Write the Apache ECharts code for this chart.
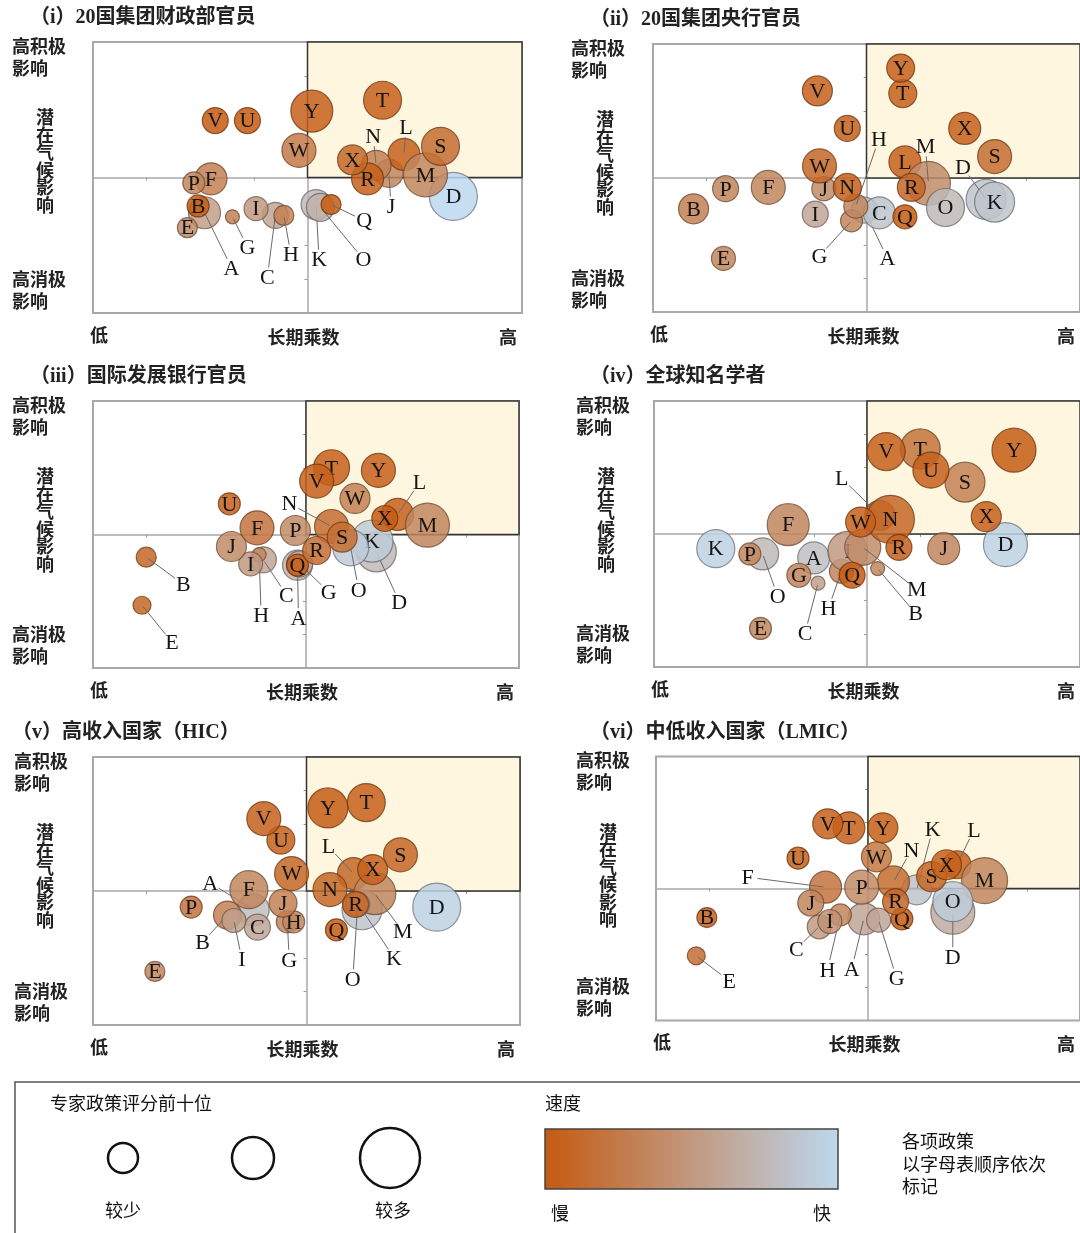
<!DOCTYPE html>
<html>
<head>
<meta charset="utf-8">
<script src="https://cdn.jsdelivr.net/npm/echarts@6/dist/echarts.min.js"></script>
<style>
  html, body { margin: 0; padding: 0; background: #fff; }
  #chart { width: 1080px; height: 1233px; }
</style>
</head>
<body>
<div id="chart"></div>
<script>
// 政策字母（A-Y），每个面板的数据行顺序与之一致
const letters = ['A','B','C','D','E','F','G','H','I','J','K','L','M','N','O','P','Q','R','S','T','U','V','W','X','Y'];

// 每行: [长期乘数, 潜在气候影响, 前十位评分次数, 速度(0慢-1快)]
const g20Finance = [
  [-4.8,-2.6,5.5,0.55],[-5.1,-2.1,3,0],[-1.5,-2.8,4,0.6],[6.8,-1.4,9.5,1],[-5.6,-3.7,2.5,0.4],
  [-4.5,-0.1,5.5,0.3],[-3.5,-2.9,1,0.3],[-1.1,-2.8,2.5,0.3],[-2.4,-2.3,3.5,0.5],[3.8,0.3,4.5,0.35],
  [0.4,-2.0,5,0.75],[4.5,1.7,5.5,0.05],[5.5,0.2,8.5,0.35],[3.2,0.9,5,0.3],[0.6,-2.2,4.5,0.7],
  [-5.3,-0.4,3,0.35],[1.1,-2.0,2.5,0],[2.8,-0.1,5.5,0.05],[6.2,2.3,7,0.15],[3.5,5.7,7,0.05],
  [-2.8,4.2,4,0],[-4.3,4.2,4,0],[-0.4,2.0,6,0.25],[2.1,1.3,5,0.1],[0.2,4.9,8,0.05]
];
const g20CentralBank = [
  [-0.1,-2.4,4,0.85],[-8.1,-2.3,5,0.3],[0.6,-2.6,5.5,0.85],[5.6,-1.6,7.5,0.85],[-6.7,-6.0,3.5,0.35],
  [-4.6,-0.7,6,0.35],[-0.7,-3.2,3,0.35],[-0.5,-2.1,3.5,0.35],[-2.4,-2.7,4,0.6],[-2.0,-0.8,3.5,0.4],
  [6.0,-1.8,7.5,0.85],[1.8,1.2,5.5,0.05],[2.9,-0.4,8.5,0.4],[-0.9,-0.7,4.5,0.05],[3.7,-2.2,7,0.75],
  [-6.6,-0.8,4,0.35],[1.8,-2.9,3.5,0],[2.1,-0.7,4.5,0.1],[6.0,1.6,6,0.15],[1.7,6.3,4.5,0.05],
  [-0.9,3.7,4,0.05],[-2.3,6.5,5,0.05],[-2.2,0.9,6,0.1],[4.6,3.7,5.5,0.05],[1.6,8.2,4.5,0.05]
];
const devBank = [
  [-0.4,-2.3,5,0.7],[-7.5,-1.7,2.5,0.1],[-2.0,-1.9,4,0.6],[3.3,-1.3,7.5,0.75],[-7.7,-5.3,2,0.1],
  [-2.3,0.5,6,0.2],[-0.3,-2.2,4,0.65],[-2.2,-1.5,1,0.35],[-2.6,-2.2,3.5,0.5],[-3.5,-0.9,5,0.4],
  [3.1,-0.5,8,0.9],[4.3,1.5,5.5,0.05],[5.7,0.7,8.5,0.35],[1.2,0.6,6,0.15],[2.1,-1.0,6.5,0.9],
  [-0.5,0.3,5,0.4],[-0.4,-2.3,3,0],[0.5,-1.2,4.5,0.15],[1.7,-0.2,5,0.15],[1.2,5.0,6.5,0.05],
  [-3.6,2.3,3,0.05],[0.5,4.0,6,0.05],[2.3,2.7,5,0.3],[3.7,1.2,4,0],[3.4,4.8,6,0.05]
];
const academics = [
  [-2.5,-1.8,5.5,0.8],[0.5,-2.6,1,0.35],[-2.3,-3.7,1,0.55],[6.5,-0.8,8.5,0.95],[-5.0,-7.1,3,0.35],
  [-3.7,0.7,8,0.35],[-3.2,-3.1,3.5,0.35],[-1.2,-2.8,3.5,0.35],[-0.9,-1.3,7.5,0.5],[3.6,-1.1,5.5,0.35],
  [-7.1,-1.1,7,0.95],[0.6,1.4,5,0.1],[-0.2,-1.0,6.5,0.4],[1.1,1.1,9.5,0.1],[-4.9,-1.5,5.5,0.75],
  [-5.5,-1.5,3,0.35],[-0.7,-3.1,4,0],[1.5,-1.0,4,0.05],[4.6,3.9,7.5,0.3],[2.5,6.4,7.5,0.2],
  [3.0,4.8,6.5,0.05],[0.9,6.2,7,0.05],[-0.3,0.9,5,0.05],[5.6,1.3,5,0.05],[6.9,6.3,8.5,0.02]
];
const highIncome = [
  [-2.5,-1.4,5.5,0.8],[-3.7,-1.8,4.5,0.3],[-2.3,-2.7,4,0.6],[6.1,-1.2,9.5,0.95],[-7.1,-6.0,2.5,0.35],
  [-2.7,0.1,7,0.35],[-0.9,-2.3,3,0.35],[-0.6,-2.3,3,0.35],[-3.4,-2.2,3.5,0.55],[-1.1,-0.9,4.5,0.3],
  [2.6,-1.4,7.5,0.85],[2.2,1.3,5.5,0.1],[3.2,-0.2,8,0.35],[1.1,0.1,6,0.1],[2.4,-1.0,3.5,0.8],
  [-5.4,-1.2,3,0.2],[1.4,-2.9,3,0],[2.3,-1.0,4,0.05],[4.4,2.7,6,0.1],[2.8,6.6,7,0.05],
  [-1.2,3.8,4.5,0.05],[-2.0,5.4,6,0.05],[-0.7,1.3,6,0.1],[3.1,1.6,5,0.05],[1.0,6.2,7.5,0.02]
];
const lowMidIncome = [
  [-0.2,-2.3,5.5,0.6],[-7.6,-2.2,2.5,0.05],[-2.3,-2.9,3.5,0.5],[4.0,-1.8,8.5,0.65],[-8.1,-5.1,2,0.15],
  [-2.0,0.1,5.5,0.2],[0.5,-2.4,3.5,0.6],[-1.3,-2.0,3,0.35],[-1.8,-2.5,3.5,0.45],[-2.7,-1.1,4,0.35],
  [2.3,-0.1,5,0.85],[4.2,1.8,4.5,0.05],[5.5,0.6,9,0.35],[1.2,0.5,5.5,0.15],[4.0,-1.0,7.5,0.9],
  [-0.3,0.1,6,0.4],[1.6,-2.3,3,0],[1.3,-1.0,4,0.1],[3.0,0.9,5,0.1],[-0.9,4.6,5.5,0.05],
  [-3.3,2.3,3,0.05],[-1.9,4.9,5,0.05],[0.4,2.4,5,0.25],[3.7,1.8,5,0.05],[0.7,4.6,5,0.05]
];

const panelData = [g20Finance, g20CentralBank, devBank, academics, highIncome, lowMidIncome];
const panelTitles = ['（i）20国集团财政部官员','（ii）20国集团央行官员','（iii）国际发展银行官员',
  '（iv）全球知名学者','（v）高收入国家（HIC）','（vi）中低收入国家（LMIC）'];

// 布局：绘图区位置
const panels = [
  {left: 93,  top: 42,    width: 429, height: 271, titleX: 30,  labelX: 12},
  {left: 653, top: 44,    width: 429, height: 268, titleX: 590, labelX: 571},
  {left: 93,  top: 401,   width: 426, height: 267, titleX: 30,  labelX: 12},
  {left: 654, top: 401,   width: 427, height: 266, titleX: 590, labelX: 576},
  {left: 93,  top: 757,   width: 427, height: 268, titleX: 12,  labelX: 14},
  {left: 656, top: 756.5, width: 425, height: 264, titleX: 590, labelX: 576}
];

// 引出线标注的偏移（像素）
const labelOffsets = [
  {N:[-3,-29], L:[2,-27], J:[2,33], Q:[33,16], K:[3,55], O:[43,52], A:[27,55], G:[15,30], C:[-8,62], H:[7,39]},
  {H:[23,-67], M:[-3,-37], D:[-23,-32], G:[-32,35], A:[23,48]},
  {N:[-42,-23], L:[22,-32], O:[8,42], D:[23,50], G:[29,28], A:[1,53], C:[23,35], H:[2,61], B:[37,27], E:[30,37]},
  {L:[-38,-37], M:[54,42], B:[38,45], H:[-13,37], C:[-13,50], O:[15,42]},
  {L:[-25,-27], M:[28,38], K:[32,48], O:[-5,75], A:[-43,-27], B:[-25,27], I:[8,39], G:[2,38]},
  {K:[16,-61], N:[18,-32], L:[17,-35], D:[0,45], F:[-78,-10], C:[-23,22], H:[-13,55], A:[-12,50], G:[18,58], E:[33,25]}
];

const slowRGB = [197, 90, 17];
const fastRGB = [189, 215, 238];
function speedColor(t) {
  const c = slowRGB.map((v, i) => Math.round(v + (fastRGB[i] - v) * t));
  return {
    fill: 'rgba(' + c.join(',') + ',0.85)',
    stroke: 'rgba(' + c.map(v => Math.round(v * 0.55)).join(',') + ',0.75)'
  };
}

function bubbleRenderer(p) {
  return function (params, api) {
    const c = api.coord([api.value(0), api.value(1)]);
    const r = 5 + 2 * api.value(2);
    const col = speedColor(api.value(3));
    const letter = letters[params.dataIndex];
    const off = labelOffsets[p][letter];
    const children = [{
      type: 'circle',
      shape: {cx: c[0], cy: c[1], r: r},
      style: {fill: col.fill, stroke: col.stroke, lineWidth: 1.2}
    }];
    let tx = c[0], ty = c[1];
    if (off) {
      tx += off[0];
      ty += off[1];
      const dx = c[0] - tx, dy = c[1] - ty;
      const len = Math.hypot(dx, dy);
      children.push({
        type: 'line',
        shape: {x1: tx + dx / len * 10, y1: ty + dy / len * 10, x2: c[0] - dx / len * 2, y2: c[1] - dy / len * 2},
        style: {stroke: '#6a6a6a', lineWidth: 1}
      });
    }
    children.push({
      type: 'text',
      style: {text: letter, x: tx, y: ty + 1, align: 'center', verticalAlign: 'middle',
        font: '22px "Liberation Serif", "DejaVu Serif", serif', fill: '#151515'}
    });
    return {type: 'group', children: children};
  };
}

const grids = [], xAxes = [], yAxes = [], series = [], graphics = [];
const cjkBold = 'bold 18px "Noto Sans CJK SC", sans-serif';

panels.forEach((p, i) => {
  grids.push({left: p.left, top: p.top, width: p.width, height: p.height,
    show: true, borderColor: '#a8a8a8', borderWidth: 2, backgroundColor: 'transparent'});
  const axisCommon = {
    type: 'value', min: -10, max: 10, gridIndex: i,
    axisLine: {onZero: true, lineStyle: {color: '#a8a8a8', width: 1.5}},
    axisLabel: {show: false}, splitLine: {show: false}
  };
  xAxes.push(Object.assign({}, axisCommon, {
    axisTick: {show: true, length: 3, customValues: [-7.5, -2.5, 2.5, 7.5], lineStyle: {color: '#999'}}
  }));
  yAxes.push(Object.assign({}, axisCommon, {
    axisTick: {show: true, length: 3, customValues: [-7.5, -5, 5, 7.5], lineStyle: {color: '#999'}}
  }));
  // 右上象限底色
  series.push({
    type: 'scatter', xAxisIndex: i, yAxisIndex: i, data: [[0, 0]], symbolSize: 0, silent: true,
    markArea: {silent: true, itemStyle: {color: '#fff6df', borderColor: '#333', borderWidth: 1.5},
      data: [[{coord: [0, 0]}, {coord: [10, 10]}]]}
  });
  series.push({
    type: 'custom', xAxisIndex: i, yAxisIndex: i, data: panelData[i],
    encode: {x: 0, y: 1}, renderItem: bubbleRenderer(i), z: 3, clip: false
  });

  const right = p.left + p.width, bottom = p.top + p.height, midX = p.left + p.width / 2;
  graphics.push(
    {type: 'text', left: p.titleX, top: p.top - 34,
      style: {text: panelTitles[i], font: 'bold 20px "Liberation Serif", "Noto Sans CJK SC", serif', fill: '#222'}},
    {type: 'text', left: p.labelX, top: p.top - 7,
      style: {text: '高积极\n影响', font: cjkBold, lineHeight: 22, fill: '#222'}},
    {type: 'text', left: p.labelX, top: bottom - 45,
      style: {text: '高消极\n影响', font: cjkBold, lineHeight: 22, fill: '#222'}},
    {type: 'text', x: p.left - 48, y: p.top + 119,
      style: {text: '潜\n在\n气\n候\n影\n响', font: cjkBold, lineHeight: 17.5, fill: '#222',
        align: 'center', verticalAlign: 'middle'}},
    {type: 'text', x: p.left + 6, y: bottom + 22,
      style: {text: '低', font: cjkBold, fill: '#222', align: 'center', verticalAlign: 'middle'}},
    {type: 'text', x: midX - 4, y: bottom + 24,
      style: {text: '长期乘数', font: cjkBold, fill: '#222', align: 'center', verticalAlign: 'middle'}},
    {type: 'text', x: Math.min(right, 1080) - 14, y: bottom + 24,
      style: {text: '高', font: cjkBold, fill: '#222', align: 'center', verticalAlign: 'middle'}}
  );
});

// 图例
const legFont = '18px "Noto Sans CJK SC", sans-serif';
graphics.push(
  {type: 'rect', shape: {x: 15, y: 1082, width: 1080, height: 170}, style: {fill: '#fff', stroke: '#555', lineWidth: 1.5}, z: -1},
  {type: 'text', left: 50, top: 1094, style: {text: '专家政策评分前十位', font: legFont, fill: '#111'}},
  {type: 'circle', shape: {cx: 123, cy: 1158, r: 15}, style: {fill: 'none', stroke: '#111', lineWidth: 2.5}},
  {type: 'circle', shape: {cx: 253, cy: 1158, r: 21}, style: {fill: 'none', stroke: '#111', lineWidth: 2.5}},
  {type: 'circle', shape: {cx: 390, cy: 1158, r: 30}, style: {fill: 'none', stroke: '#111', lineWidth: 2.5}},
  {type: 'text', x: 123, y: 1210, style: {text: '较少', font: legFont, fill: '#111', align: 'center', verticalAlign: 'middle'}},
  {type: 'text', x: 393, y: 1210, style: {text: '较多', font: legFont, fill: '#111', align: 'center', verticalAlign: 'middle'}},
  {type: 'text', left: 545, top: 1094, style: {text: '速度', font: legFont, fill: '#111'}},
  {type: 'rect', shape: {x: 545, y: 1129, width: 293, height: 60},
    style: {fill: new echarts.graphic.LinearGradient(0, 0, 1, 0, [
      {offset: 0, color: 'rgb(' + slowRGB.join(',') + ')'},
      {offset: 1, color: 'rgb(' + fastRGB.join(',') + ')'}]), stroke: '#444', lineWidth: 1.5}},
  {type: 'text', x: 560, y: 1213, style: {text: '慢', font: legFont, fill: '#111', align: 'center', verticalAlign: 'middle'}},
  {type: 'text', x: 822, y: 1213, style: {text: '快', font: legFont, fill: '#111', align: 'center', verticalAlign: 'middle'}},
  {type: 'text', left: 902, top: 1130, style: {text: '各项政策\n以字母表顺序依次\n标记', font: legFont, lineHeight: 22.5, fill: '#111'}}
);

const chart = echarts.init(document.getElementById('chart'), null, {renderer: 'canvas'});
chart.setOption({
  animation: false,
  backgroundColor: '#fff',
  grid: grids,
  xAxis: xAxes,
  yAxis: yAxes,
  series: series,
  graphic: graphics
});
</script>
</body>
</html>
